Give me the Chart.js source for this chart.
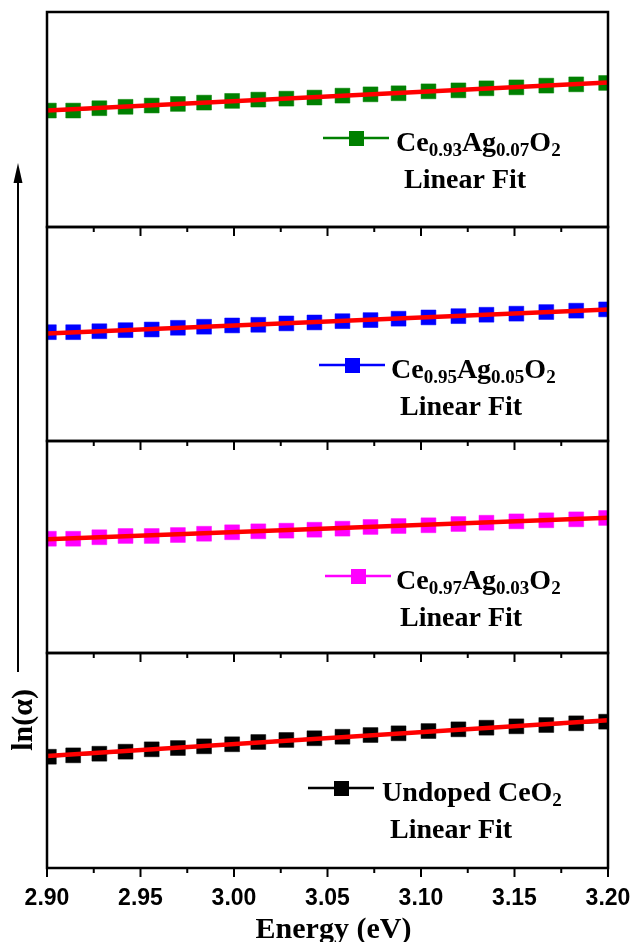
<!DOCTYPE html>
<html>
<head>
<meta charset="utf-8">
<script src="https://cdn.jsdelivr.net/npm/chart.js@4.4.1/dist/chart.umd.min.js"></script>
<style>
  body { margin: 0; background: #fff; }
  #wrap { position: relative; width: 633px; height: 942px; }
  #wrap canvas { position: absolute; left: 0; top: 0; }
</style>
</head>
<body>
<div id="wrap">
  <canvas id="p1" width="633" height="942"></canvas>
  <canvas id="p2" width="633" height="942"></canvas>
  <canvas id="p3" width="633" height="942"></canvas>
  <canvas id="p4" width="633" height="942"></canvas>
</div>
<script>
// photon energy (eV) of each measured point
var energy = [2.901, 2.914, 2.928, 2.942, 2.956, 2.970, 2.984, 2.999, 3.013, 3.028, 3.043,
              3.058, 3.073, 3.088, 3.104, 3.120, 3.135, 3.151, 3.167, 3.183, 3.199];

// ln(alpha), arbitrary offset per panel (no y tick labels in the figure)
var lnA_Ag007 = [1.083, 1.083, 1.105, 1.118, 1.130, 1.145, 1.157, 1.173, 1.185, 1.194, 1.204,
                 1.222, 1.234, 1.244, 1.262, 1.271, 1.290, 1.299, 1.315, 1.327, 1.340];
var lnA_Ag005 = [1.017, 1.017, 1.026, 1.036, 1.042, 1.058, 1.068, 1.080, 1.086, 1.099, 1.108,
                 1.120, 1.130, 1.143, 1.155, 1.167, 1.180, 1.190, 1.205, 1.218, 1.230];
var lnA_Ag003 = [1.078, 1.078, 1.092, 1.104, 1.104, 1.113, 1.125, 1.139, 1.148, 1.154, 1.163,
                 1.173, 1.189, 1.198, 1.205, 1.217, 1.229, 1.242, 1.252, 1.261, 1.274];
var lnA_undoped = [1.035, 1.048, 1.063, 1.082, 1.104, 1.116, 1.132, 1.151, 1.172, 1.191, 1.207,
                   1.221, 1.237, 1.253, 1.274, 1.290, 1.305, 1.318, 1.330, 1.346, 1.361];

// linear fits, end points
var fitEnergy = [2.90, 3.20];
var fit_Ag007 = [1.083, 1.345];
var fit_Ag005 = [1.005, 1.230];
var fit_Ag003 = [1.073, 1.277];
var fit_undoped = [1.042, 1.374];

var xMajorTicks = [2.90, 2.95, 3.00, 3.05, 3.10, 3.15, 3.20];
var xMinorTicks = [2.925, 2.975, 3.025, 3.075, 3.125, 3.175];
var xTickLabels = ['2.90', '2.95', '3.00', '3.05', '3.10', '3.15', '3.20'];

var SERIF = '"Liberation Serif", "Times New Roman", serif';
var SANS = '"Liberation Sans", Arial, sans-serif';

function pts(xs, ys) {
  return xs.map(function (x, i) { return { x: x, y: ys[i] }; });
}

// draw text with subscripts: parts = [[text, isSub], ...]
function richText(ctx, parts, x, y) {
  parts.forEach(function (p) {
    ctx.font = p[1] ? 'bold 19px ' + SERIF : 'bold 28px ' + SERIF;
    ctx.fillText(p[0], x, p[1] ? y + 5 : y);
    x += ctx.measureText(p[0]).width;
  });
}

function makePanel(id, cfg) {
  var frame = {
    id: 'frame',
    afterDraw: function (chart) {
      var ctx = chart.ctx, a = chart.chartArea, xs = chart.scales.x;
      ctx.save();
      ctx.strokeStyle = '#000';
      ctx.lineWidth = 2.5;
      ctx.strokeRect(a.left, a.top, a.right - a.left, a.bottom - a.top);
      ctx.lineWidth = 2;
      xMajorTicks.forEach(function (v) {
        var px = xs.getPixelForValue(v);
        ctx.beginPath(); ctx.moveTo(px, a.bottom); ctx.lineTo(px, a.bottom + 9); ctx.stroke();
      });
      xMinorTicks.forEach(function (v) {
        var px = xs.getPixelForValue(v);
        ctx.beginPath(); ctx.moveTo(px, a.bottom); ctx.lineTo(px, a.bottom + 5); ctx.stroke();
      });

      // legend
      var L = cfg.legend;
      ctx.strokeStyle = cfg.color;
      ctx.lineWidth = 2.5;
      ctx.beginPath(); ctx.moveTo(L.x0, L.y); ctx.lineTo(L.x0 + 66, L.y); ctx.stroke();
      ctx.fillStyle = cfg.color;
      ctx.fillRect(L.x0 + 26, L.y - 7, 15, 15);
      ctx.fillStyle = '#000';
      ctx.textAlign = 'left';
      ctx.textBaseline = 'alphabetic';
      richText(ctx, cfg.label, L.textX, L.y + 13);
      ctx.font = 'bold 28px ' + SERIF;
      ctx.fillText('Linear Fit', L.fitX, L.y + 50);

      if (cfg.bottom) {
        ctx.textAlign = 'center';
        ctx.font = 'bold 30px ' + SERIF;
        ctx.fillText('Energy (eV)', (a.left + a.right) / 2 + 6, 938);
        ctx.save();
        ctx.translate(24, 720);
        ctx.rotate(-Math.PI / 2);
        ctx.textBaseline = 'middle';
        ctx.fillText('ln(\u03b1)', 0, 0);
        ctx.restore();
        // arrow
        ctx.strokeStyle = '#000';
        ctx.lineWidth = 2;
        ctx.beginPath(); ctx.moveTo(18, 672); ctx.lineTo(18, 178); ctx.stroke();
        ctx.beginPath(); ctx.moveTo(18, 163); ctx.lineTo(13.5, 183); ctx.lineTo(22.5, 183); ctx.closePath(); ctx.fill();
      }
      ctx.restore();
    }
  };

  return new Chart(document.getElementById(id), {
    type: 'line',
    data: {
      datasets: [
        {
          label: 'Linear Fit',
          data: pts(fitEnergy, cfg.fit),
          borderColor: '#ff0000',
          borderWidth: 4.5,
          pointRadius: 0,
          order: 0
        },
        {
          label: cfg.name,
          data: pts(energy, cfg.values),
          borderColor: cfg.color,
          backgroundColor: cfg.color,
          borderWidth: 2,
          pointStyle: 'rect',
          pointRadius: 10.5,
          pointBorderWidth: 0.5,
          pointBackgroundColor: cfg.color,
          pointBorderColor: cfg.color,
          order: 1
        }
      ]
    },
    options: {
      responsive: false,
      animation: false,
      layout: { padding: { left: 47, right: 25, top: cfg.top, bottom: cfg.bottom ? 0 : 942 - cfg.bot } },
      plugins: { legend: { display: false }, tooltip: { enabled: false } },
      scales: {
        x: {
          type: 'linear',
          min: 2.90,
          max: 3.20,
          display: !!cfg.bottom,
          grid: { display: false, drawTicks: false },
          border: { display: false },
          ticks: {
            stepSize: 0.05,
            padding: 17,
            maxRotation: 0,
            autoSkip: false,
            color: '#000',
            font: { family: SANS, size: 23, weight: 'bold' },
            callback: function (v, i) { return xTickLabels[i]; }
          },
          afterFit: function (s) {
            if (cfg.bottom) {
              s.height = 942 - cfg.bot;
              s.paddingLeft = 0;
              s.paddingRight = 0;
            }
          }
        },
        y: { display: false, min: 0, max: 2 }
      }
    },
    plugins: [frame]
  });
}

makePanel('p1', {
  top: 12, bot: 227, color: '#008000', values: lnA_Ag007, fit: fit_Ag007, name: 'Ce0.93Ag0.07O2',
  label: [['Ce', 0], ['0.93', 1], ['Ag', 0], ['0.07', 1], ['O', 0], ['2', 1]],
  legend: { x0: 323, y: 138, textX: 396, fitX: 404 }
});
makePanel('p2', {
  top: 227, bot: 441, color: '#0000ff', values: lnA_Ag005, fit: fit_Ag005, name: 'Ce0.95Ag0.05O2',
  label: [['Ce', 0], ['0.95', 1], ['Ag', 0], ['0.05', 1], ['O', 0], ['2', 1]],
  legend: { x0: 319, y: 365, textX: 391, fitX: 400 }
});
makePanel('p3', {
  top: 441, bot: 653, color: '#ff00ff', values: lnA_Ag003, fit: fit_Ag003, name: 'Ce0.97Ag0.03O2',
  label: [['Ce', 0], ['0.97', 1], ['Ag', 0], ['0.03', 1], ['O', 0], ['2', 1]],
  legend: { x0: 325, y: 576, textX: 396, fitX: 400 }
});
makePanel('p4', {
  top: 653, bot: 868, bottom: true, color: '#000000', values: lnA_undoped, fit: fit_undoped, name: 'Undoped CeO2',
  label: [['Undoped CeO', 0], ['2', 1]],
  legend: { x0: 308, y: 788, textX: 382, fitX: 390 }
});
</script>
</body>
</html>
